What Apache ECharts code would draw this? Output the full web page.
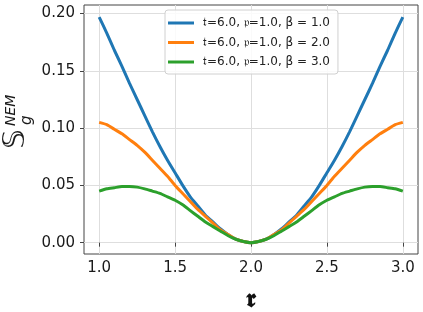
<!DOCTYPE html>
<html>
<head>
<meta charset="utf-8">
<script src="https://cdn.jsdelivr.net/npm/echarts@6/dist/echarts.min.js"></script>
<style>
    html, body { margin: 0; padding: 0; background: #fff; }
    #chart { width: 423px; height: 312px; }
</style>
</head>
<body>
<div id="chart"></div>
<script>
// r values on the x axis
const rValues = [1.00, 1.05, 1.10, 1.15, 1.20, 1.25, 1.30, 1.35, 1.40, 1.45, 1.50,
                 1.55, 1.60, 1.65, 1.70, 1.75, 1.80, 1.85, 1.90, 1.95, 2.00,
                 2.05, 2.10, 2.15, 2.20, 2.25, 2.30, 2.35, 2.40, 2.45, 2.50,
                 2.55, 2.60, 2.65, 2.70, 2.75, 2.80, 2.85, 2.90, 2.95, 3.00];

const beta1 = [0.197, 0.183, 0.168, 0.154, 0.139, 0.125, 0.111, 0.097, 0.084, 0.072, 0.061,
               0.050, 0.040, 0.032, 0.024, 0.018, 0.012, 0.007, 0.003, 0.001, 0.000,
               0.001, 0.003, 0.007, 0.012, 0.018, 0.024, 0.032, 0.040, 0.050, 0.061,
               0.072, 0.084, 0.097, 0.111, 0.125, 0.139, 0.154, 0.168, 0.183, 0.197];
const beta2 = [0.105, 0.103, 0.099, 0.095, 0.090, 0.085, 0.079, 0.072, 0.065, 0.058, 0.050,
               0.043, 0.036, 0.029, 0.023, 0.017, 0.011, 0.007, 0.003, 0.001, 0.000,
               0.001, 0.003, 0.007, 0.011, 0.017, 0.023, 0.029, 0.036, 0.043, 0.050,
               0.058, 0.065, 0.072, 0.079, 0.085, 0.090, 0.095, 0.099, 0.103, 0.105];
const beta3 = [0.045, 0.047, 0.048, 0.049, 0.049, 0.0485, 0.047, 0.045, 0.043, 0.040, 0.037,
               0.033, 0.028, 0.023, 0.018, 0.014, 0.010, 0.006, 0.003, 0.001, 0.000,
               0.001, 0.003, 0.006, 0.010, 0.014, 0.018, 0.023, 0.028, 0.033, 0.037,
               0.040, 0.043, 0.045, 0.047, 0.0485, 0.049, 0.049, 0.048, 0.047, 0.045];

const seriesNames = ['𝔱=6.0, 𝔭=1.0, β = 1.0', '𝔱=6.0, 𝔭=1.0, β = 2.0', '𝔱=6.0, 𝔭=1.0, β = 3.0'];
const seriesColors = ['#1f77b4', '#ff7f0e', '#2ca02c'];

const xTicks = [1.0, 1.5, 2.0, 2.5, 3.0];
const yTicks = [0.00, 0.05, 0.10, 0.15, 0.20];

function fnc_pairs(xs, ys){
    let out = [];
    for(let i in xs){
        out.push([xs[i], ys[i]]);
    }
    return out;
}

const allValues = [beta1, beta2, beta3];
let series = [];
for(let i in allValues){
    series.push({
        name: seriesNames[i],
        type: 'line',
        data: fnc_pairs(rValues, allValues[i]),
        smooth: 0.2,
        showSymbol: false,
        lineStyle: { width: 3, color: seriesColors[i] },
        itemStyle: { color: seriesColors[i] },
        z: 2 + Number(i)
    });
}

const font = 'DejaVu Sans';
const gridColor = '#dedede';

let chart = echarts.init(document.getElementById('chart'), null, { renderer: 'canvas' });

chart.setOption({
    animation: false,
    backgroundColor: '#fff',
    grid: {
        left: 84, right: 5, top: 5, bottom: 58,
        outerBoundsMode: 'none', containLabel: false,
        show: true, borderColor: '#444', borderWidth: 1
    },
    legend: {
        top: 10, left: 165,
        orient: 'vertical',
        icon: 'rect',
        itemWidth: 26, itemHeight: 3,
        itemGap: 5.5,
        padding: [6, 8, 5, 3],
        borderColor: '#d0d0d0', borderWidth: 1, borderRadius: 3,
        backgroundColor: 'rgba(255,255,255,0.85)',
        textStyle: { fontFamily: font, fontSize: 12, color: '#222', lineHeight: 14, padding: [0, 0, 0, 4] },
        data: seriesNames
    },
    xAxis: {
        type: 'value', min: 0.9, max: 3.1,
        name: '𝖗', nameLocation: 'middle', nameGap: 34,
        nameTextStyle: { fontFamily: 'DejaVu Serif', fontSize: 25, fontWeight: 'bold', color: '#111' },
        axisLine: { show: false },
        axisTick: { show: true, customValues: xTicks, length: 4, inside: false, lineStyle: { color: '#444' } },
        axisLabel: { customValues: xTicks, margin: 7, fontFamily: font, fontSize: 15, color: '#1a1a1a',
            formatter: v => v.toFixed(1) },
        splitLine: { show: true, lineStyle: { color: gridColor, width: 1 } }
    },
    yAxis: {
        type: 'value', min: -0.0099, max: 0.2075,
        axisLine: { show: false },
        axisTick: { show: true, customValues: yTicks, length: 4, inside: false, lineStyle: { color: '#444' } },
        axisLabel: { customValues: yTicks, margin: 9, fontFamily: font, fontSize: 15, color: '#1a1a1a',
            formatter: v => v.toFixed(2) },
        splitLine: { show: true, lineStyle: { color: gridColor, width: 1 } }
    },
    graphic: [{
        type: 'group',
        x: 16, y: 149,
        rotation: Math.PI / 2,
        children: [
            { type: 'text', x: 0, y: 0,
              style: { text: '𝕊', fontFamily: font, fontSize: 31, fill: '#1a1a1a', verticalAlign: 'middle' } },
            { type: 'text', x: 24, y: 11,
              style: { text: 'g', fontFamily: font, fontSize: 15, fontStyle: 'italic', fill: '#1a1a1a', verticalAlign: 'middle' } },
            { type: 'text', x: 23, y: -5,
              style: { text: 'NEM', fontFamily: font, fontSize: 14, fontStyle: 'italic', fill: '#1a1a1a', verticalAlign: 'middle' } }
        ]
    }],
    series: series
});
</script>
</body>
</html>
